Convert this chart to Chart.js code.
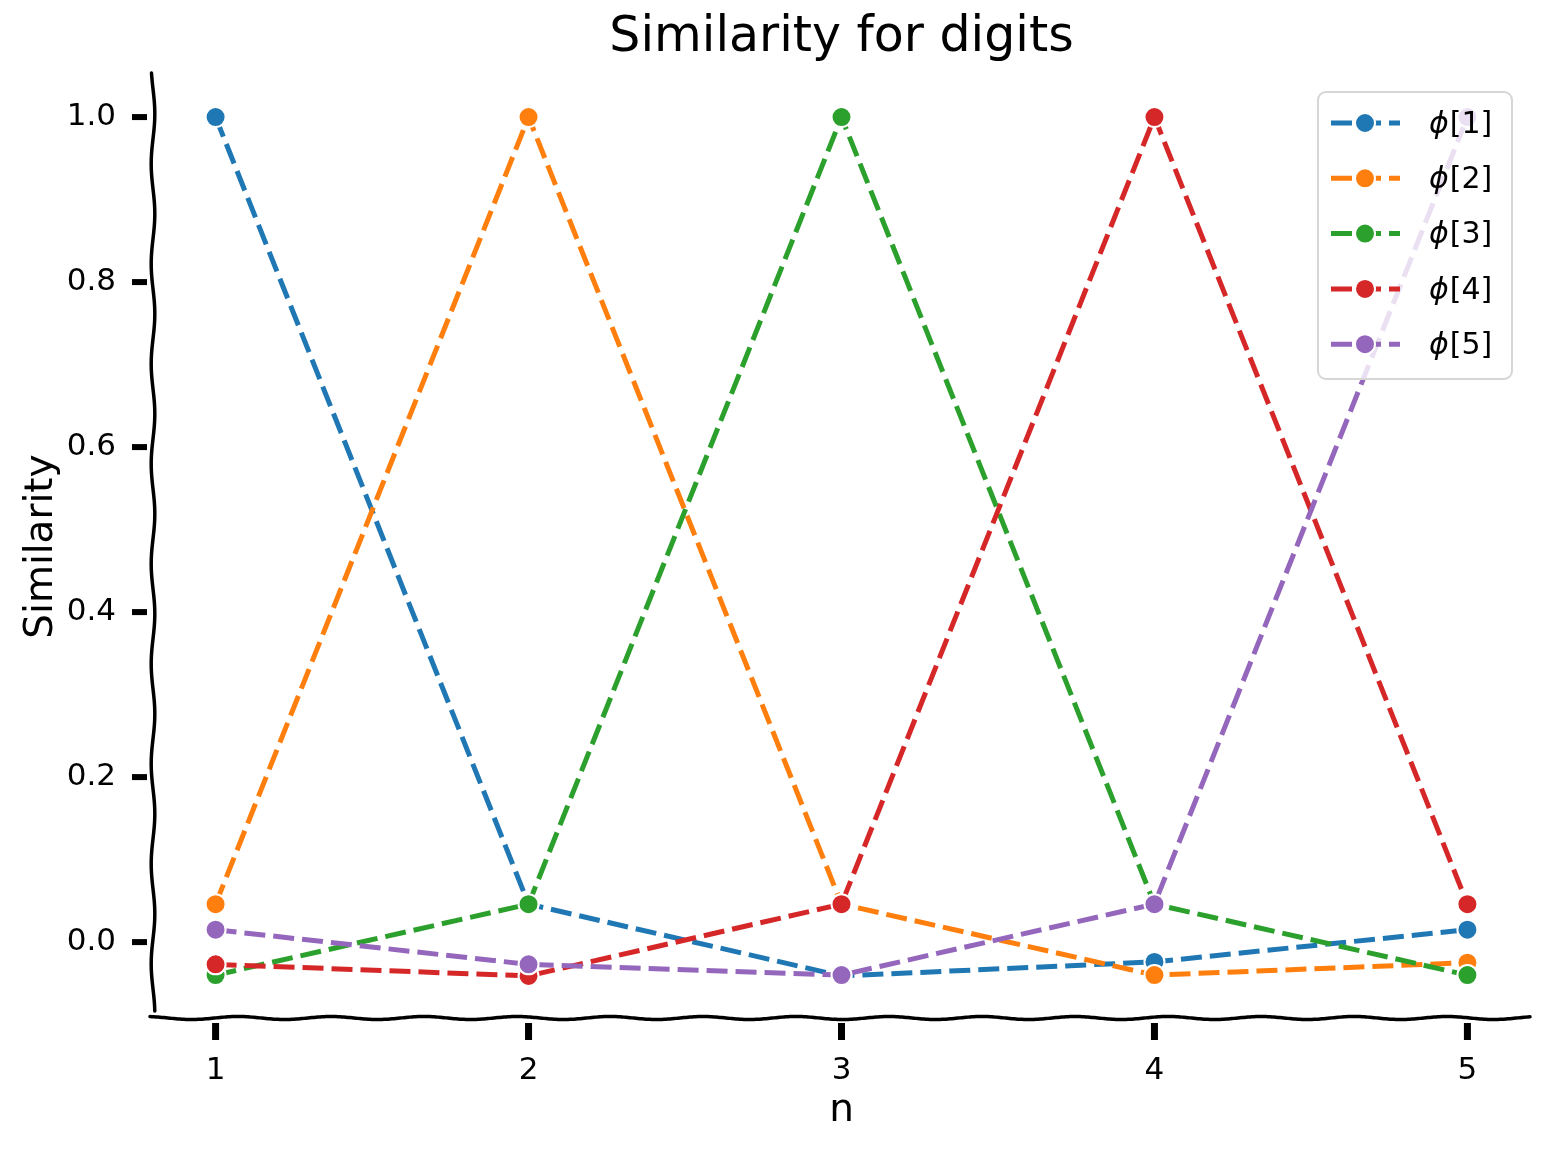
<!DOCTYPE html>
<html>
<head>
<meta charset="utf-8">
<script src="https://cdn.jsdelivr.net/npm/chart.js@4"></script>
<style>
  html, body { margin: 0; padding: 0; background: #fff; }
  canvas { display: block; }
</style>
</head>
<body>
<canvas id="chart" width="1550" height="1150"></canvas>
<script>
// Data
const nValues = [1, 2, 3, 4, 5];
const phi1 = [1.0, 0.046, -0.041, -0.024, 0.015];
const phi2 = [0.046, 1.0, 0.046, -0.040, -0.025];
const phi3 = [-0.040, 0.046, 1.0, 0.046, -0.040];
const phi4 = [-0.027, -0.041, 0.046, 1.0, 0.046];
const phi5 = [0.015, -0.027, -0.040, 0.046, 1.0];
const seriesLabels = ['ϕ[1]', 'ϕ[2]', 'ϕ[3]', 'ϕ[4]', 'ϕ[5]'];
const seriesColors = ['#1f77b4', '#ff7f0e', '#2ca02c', '#d62728', '#9467bd'];
const yTicks = [0, 0.2, 0.4, 0.6, 0.8, 1.0];
const xTicks = [1, 2, 3, 4, 5];

const FONT = '"DejaVu Sans", sans-serif';
const DASH = [21, 8];

// wavy spines + thick tick marks, xkcd style
const xkcdAxes = {
    id: 'xkcdAxes',
    afterDraw(chart) {
        const { ctx, chartArea: a, scales } = chart;
        ctx.save();
        ctx.strokeStyle = '#000';
        ctx.lineWidth = 3.5;
        ctx.lineCap = 'round';
        ctx.lineJoin = 'round';

        ctx.beginPath();
        for (let py = a.top - 2; py <= a.bottom - 6; py += 2) {
            const px = a.left + 1.8 * Math.sin(py * 2 * Math.PI / 100 + 0.7);
            if (py === a.top - 2) ctx.moveTo(px, py); else ctx.lineTo(px, py);
        }
        ctx.stroke();

        ctx.beginPath();
        for (let px = a.left - 3; px <= a.right; px += 2) {
            const py = a.bottom + 1.5 * Math.sin(px * 2 * Math.PI / 93 + 1.2);
            if (px === a.left - 3) ctx.moveTo(px, py); else ctx.lineTo(px, py);
        }
        ctx.stroke();

        ctx.fillStyle = '#000';
        yTicks.forEach(v => {
            const py = scales.y.getPixelForValue(v);
            ctx.fillRect(a.left - 21, py - 3, 15, 6);
        });
        xTicks.forEach(v => {
            const px = scales.x.getPixelForValue(v);
            ctx.fillRect(px - 3.5, a.bottom + 5, 7, 17);
        });
        ctx.restore();
    }
};

// legend box inside the plot, upper right
const innerLegend = {
    id: 'innerLegend',
    afterDatasetsDraw(chart) {
        const { ctx } = chart;
        const box = { x: 1318, y: 92, w: 194, h: 287 };
        ctx.save();
        ctx.beginPath();
        ctx.roundRect(box.x, box.y, box.w, box.h, 8);
        ctx.fillStyle = 'rgba(255,255,255,0.8)';
        ctx.fill();
        ctx.strokeStyle = '#d6d6d6';
        ctx.lineWidth = 2;
        ctx.stroke();

        chart.data.datasets.forEach((ds, i) => {
            const rowY = 123 + i * 55.3;
            ctx.setLineDash(DASH);
            ctx.strokeStyle = ds.borderColor;
            ctx.lineWidth = 5;
            ctx.beginPath();
            ctx.moveTo(1331, rowY);
            ctx.lineTo(1400, rowY);
            ctx.stroke();
            ctx.setLineDash([]);
            ctx.beginPath();
            ctx.arc(1365, rowY, 10, 0, Math.PI * 2);
            ctx.fillStyle = ds.backgroundColor;
            ctx.fill();
            ctx.strokeStyle = '#fff';
            ctx.lineWidth = 2;
            ctx.stroke();

            const label = ds.label;
            ctx.fillStyle = '#000';
            ctx.textBaseline = 'middle';
            ctx.textAlign = 'left';
            ctx.font = 'italic 30px ' + FONT;
            ctx.fillText(label[0], 1429, rowY + 2);
            const w = ctx.measureText(label[0]).width;
            ctx.font = '30px ' + FONT;
            ctx.fillText(label.slice(1), 1429 + w + 1, rowY + 2);
        });
        ctx.restore();
    }
};

const allSeries = [phi1, phi2, phi3, phi4, phi5];

new Chart(document.getElementById('chart').getContext('2d'), {
    type: 'line',
    data: {
        datasets: allSeries.map((vals, i) => ({
            label: seriesLabels[i],
            data: nValues.map((n, j) => ({ x: n, y: vals[j] })),
            borderColor: seriesColors[i],
            backgroundColor: seriesColors[i],
            borderWidth: 5,
            borderDash: DASH,
            pointRadius: 10,
            pointBorderColor: '#fff',
            pointBorderWidth: 2,
            pointBackgroundColor: seriesColors[i],
            tension: 0,
            order: allSeries.length - i
        }))
    },
    options: {
        responsive: false,
        animation: false,
        layout: { padding: { left: 0, right: 20, top: 0, bottom: 0 } },
        scales: {
            x: {
                type: 'linear',
                min: 0.8,
                max: 5.2,
                grid: { display: false },
                border: { display: false },
                afterBuildTicks: s => { s.ticks = xTicks.map(v => ({ value: v })); },
                afterFit: s => { s.height = 132; },
                ticks: {
                    padding: 26,
                    color: '#000',
                    font: { family: FONT, size: 31 },
                    callback: v => String(v)
                },
                title: {
                    display: true,
                    text: 'n',
                    color: '#000',
                    font: { family: FONT, size: 39 },
                    padding: { top: 0, bottom: 16 }
                }
            },
            y: {
                type: 'linear',
                min: -0.092,
                max: 1.051,
                grid: { display: false },
                border: { display: false },
                afterBuildTicks: s => { s.ticks = yTicks.map(v => ({ value: v })); },
                afterFit: s => { s.width = 153; },
                ticks: {
                    padding: 29,
                    color: '#000',
                    font: { family: FONT, size: 31 },
                    callback: v => v.toFixed(1)
                },
                title: {
                    display: true,
                    text: 'Similarity',
                    color: '#000',
                    font: { family: FONT, size: 39 },
                    padding: { top: 18, bottom: 0 }
                }
            }
        },
        plugins: {
            legend: { display: false },
            tooltip: { enabled: false },
            title: {
                display: true,
                text: 'Similarity for digits',
                color: '#000',
                fullSize: false,
                font: { family: FONT, size: 49, weight: 'normal' },
                padding: { top: 9, bottom: 7.2 }
            }
        }
    },
    plugins: [xkcdAxes, innerLegend]
});
</script>
</body>
</html>
